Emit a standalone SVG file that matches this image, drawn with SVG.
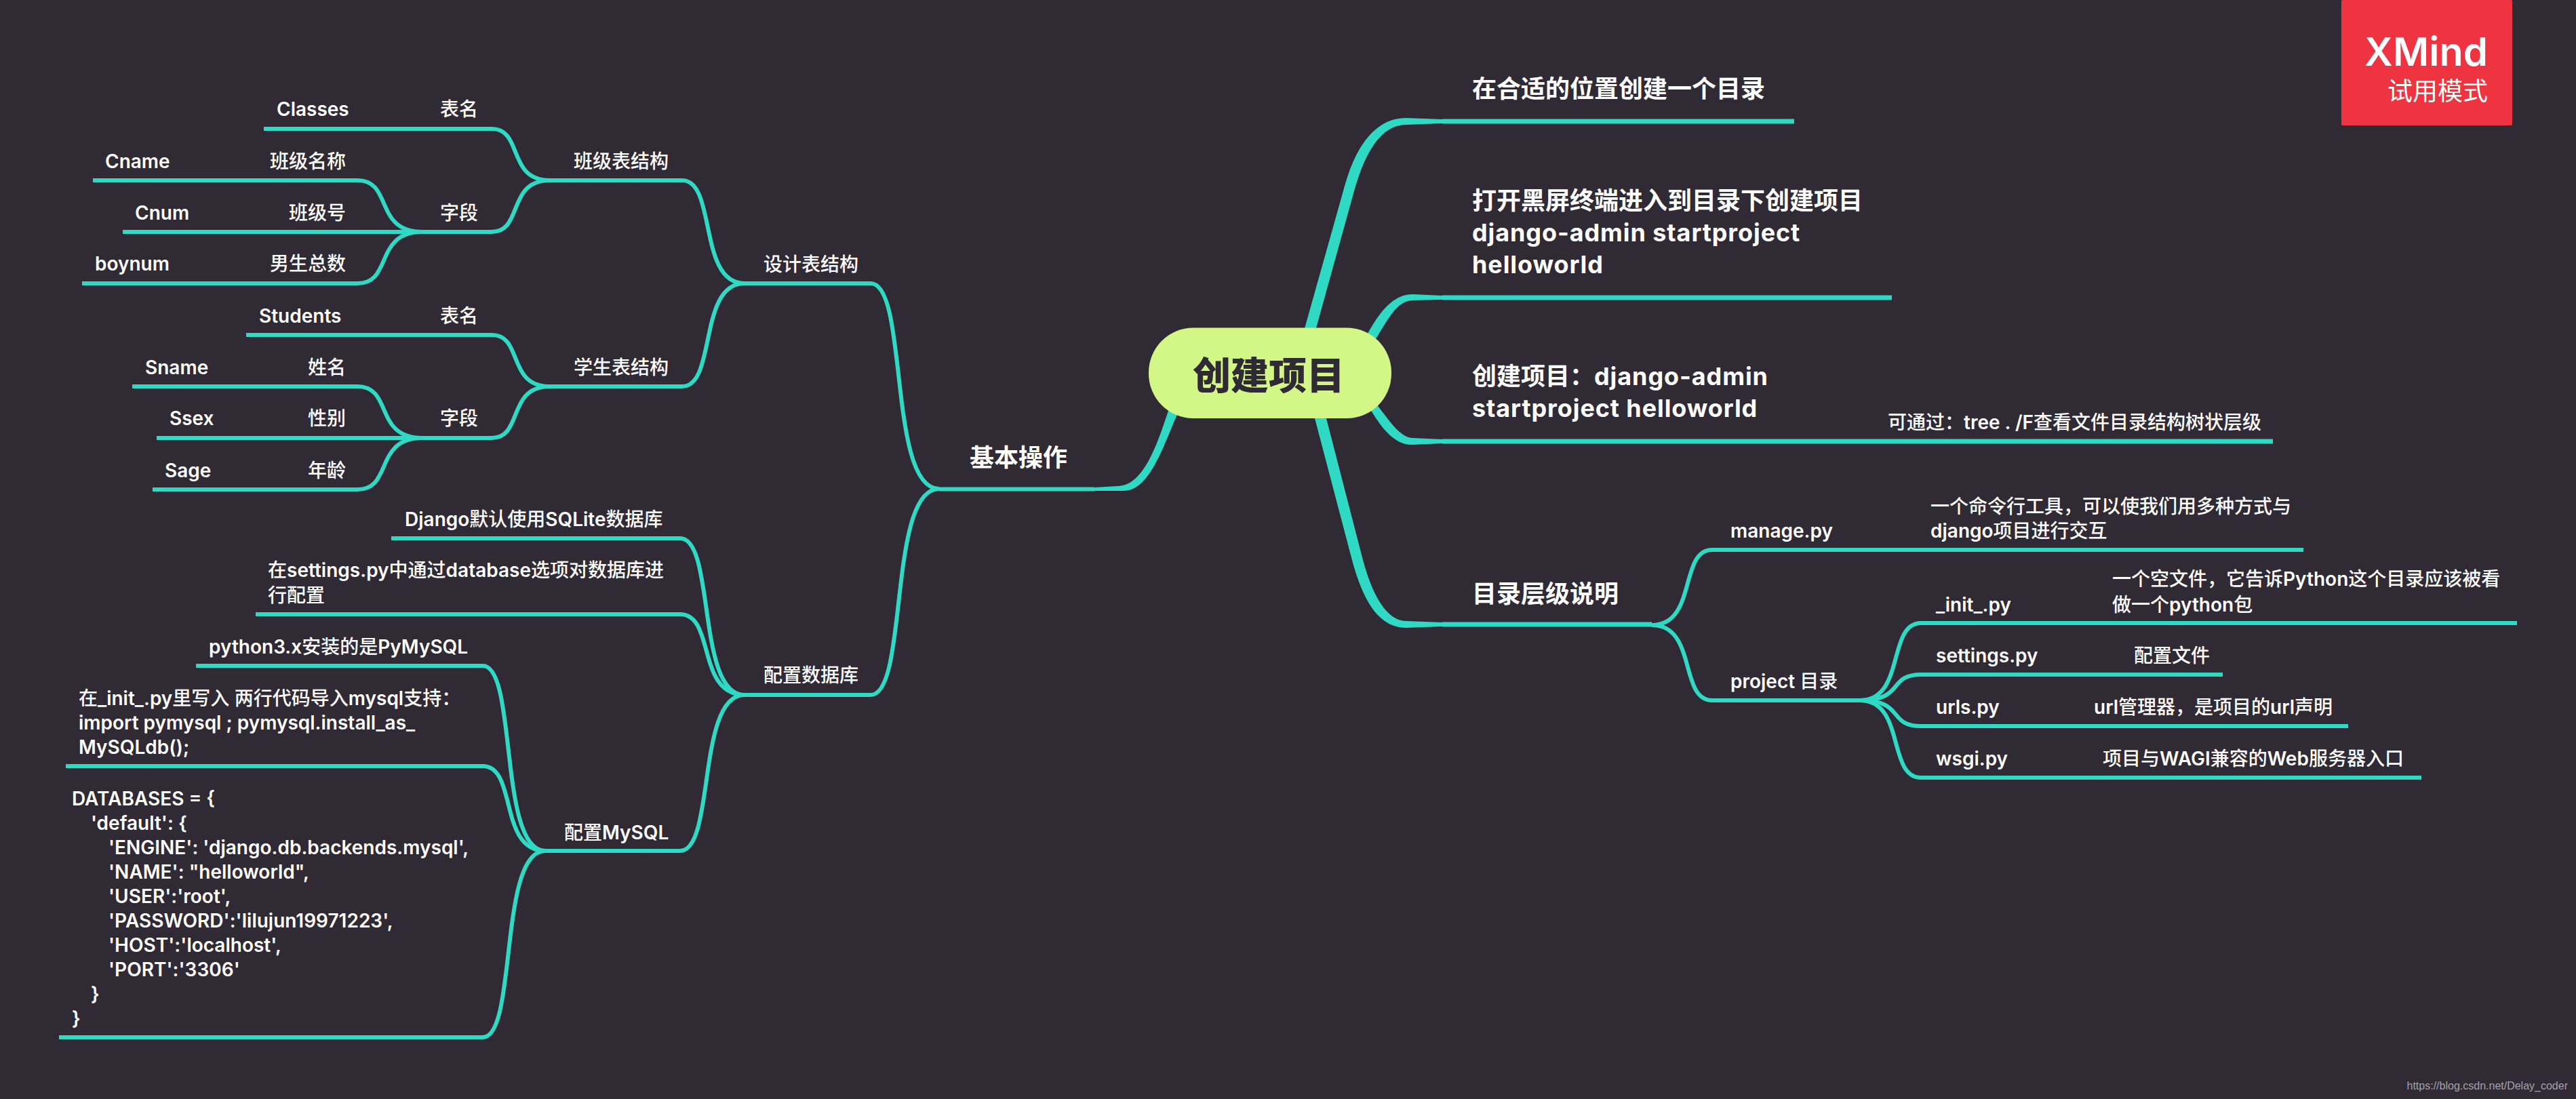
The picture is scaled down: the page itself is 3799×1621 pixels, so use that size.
<svg xmlns="http://www.w3.org/2000/svg" width="3799" height="1621" viewBox="0 0 3799 1621">
<style>
text{font-family:"Inter","Noto Sans CJK SC","Noto Sans",sans-serif;fill:#fff}
.l1{font-size:36px;font-weight:700}
.l2{font-size:28px;font-weight:500}
.b{font-weight:600}
.s{letter-spacing:.9px}
.c{fill:none;stroke:#2fd9c3;stroke-width:6;stroke-linejoin:round}
.m{fill:none;stroke:#2fd9c3;stroke-width:7}
.t{fill:#2fd9c3;stroke:none}
</style>
<rect width="3799" height="1621" fill="#302a35"/>
<g id="connectors">
<path class="t" d="M1914,520L1982,278C2000,212 2030,174 2074,174L2127,176V182L2074,184C2040,184 2015,218 1997,282L1931,520Z"/>
<path class="m" d="M2127,179H2646"/>
<path class="t" d="M1990,540L2018,490C2035,460 2055,434 2083,434L2127,436V442L2083,443C2060,444 2048,470 2030,498L2005,540Z"/>
<path class="m" d="M2127,439H2790"/>
<path class="t" d="M1990,560L2023,607C2040,635 2058,656 2083,656L2127,654V648L2083,646C2065,645 2050,622 2033,600L2000,560Z"/>
<path class="m" d="M2127,651H3352"/>
<path class="t" d="M1930,580L1939,617L1995,830C2012,890 2035,926 2074,926L2127,924V918L2074,916C2048,916 2026,885 2010,826L1956,617L1948,580Z"/>
<path class="m" d="M2127,921H2436"/>
<path class="t" d="M1742,560L1722,609C1705,660 1685,717 1648,717L1614,719V724L1657,724C1695,724 1715,660 1735,614L1755,560Z"/>
<path class="c" d="M1385,721.500H1614"/>
<path class="c" d="M1098,418H1284C1340,418 1309,721 1385,721"/>
<path class="c" d="M1098,1025H1284C1340,1025 1309,721 1385,721"/>
<path class="c" d="M811,266H1006C1057,266 1029,418 1098,418"/>
<path class="c" d="M811,570H1006C1057,570 1029,418 1098,418"/>
<path class="c" d="M389,190H725C772,190 747,266 811,266"/>
<path class="c" d="M623,342H725C772,342 747,266 811,266"/>
<path class="c" d="M137,266H527C580,266 551,342 623,342"/>
<path class="c" d="M181,342H623"/>
<path class="c" d="M121,418H527C580,418 551,342 623,342"/>
<path class="c" d="M363,494H725C772,494 747,570 811,570"/>
<path class="c" d="M623,646H725C772,646 747,570 811,570"/>
<path class="c" d="M195,570H527C580,570 551,646 623,646"/>
<path class="c" d="M231,646H623"/>
<path class="c" d="M225,722H527C580,722 551,646 623,646"/>
<path class="c" d="M577,794H1003C1055,794 1027,1025 1098,1025"/>
<path class="c" d="M377,906H1003C1055,906 1027,1025 1098,1025"/>
<path class="c" d="M804,1255H1003C1055,1255 1027,1025 1098,1025"/>
<path class="c" d="M289,982H712C763,982 735,1255 804,1255"/>
<path class="c" d="M97,1130H712C763,1130 735,1255 804,1255"/>
<path class="c" d="M87,1530H712C763,1530 735,1255 804,1255"/>
<path class="c" d="M3397,811H2525C2476,811 2503,922 2436,922"/>
<path class="c" d="M2743,1033H2525C2476,1033 2503,922 2436,922"/>
<path class="c" d="M3712,919H2833C2783,919 2810,1033 2743,1033"/>
<path class="c" d="M3278,995H2833C2783,995 2810,1033 2743,1033"/>
<path class="c" d="M3463,1071H2833C2783,1071 2810,1033 2743,1033"/>
<path class="c" d="M3571,1147H2833C2783,1147 2810,1033 2743,1033"/>
</g>
<g id="root">
<rect x="1694" y="483.500" width="358" height="133.500" rx="66" ry="66" fill="#d2f787"/>
<text x="1871" y="574" text-anchor="middle" font-size="56" font-weight="900" style="fill:#302a35">创建项目</text>
</g>
<g id="n-dir"><text class="l1" x="2171" y="144">在合适的位置创建一个目录</text></g>
<g id="n-open"><text class="l1"><tspan x="2171" y="309">打开黑屏终端进入到目录下创建项目</tspan><tspan class="s" x="2171" y="356">django-admin startproject</tspan><tspan class="s" x="2171" y="403">helloworld</tspan></text></g>
<g id="n-create"><text class="l1"><tspan x="2171" y="568">创建项目：</tspan><tspan class="s">django-admin</tspan><tspan class="s" x="2171" y="615">startproject helloworld</tspan></text></g>
<g id="n-tree"><text class="l2" x="2784" y="633">可通过：<tspan class="b">tree . /F</tspan>查看文件目录结构树状层级</text></g>
<g id="n-levels"><text class="l1" x="2171" y="889">目录层级说明</text></g>
<g id="n-manage"><text class="l2 b" x="2552" y="793">manage.py</text></g>
<g id="n-manage-d"><text class="l2"><tspan x="2847" y="757">一个命令行工具，可以使我们用多种方式与</tspan><tspan x="2847" y="793"><tspan class="b">django</tspan>项目进行交互</tspan></text></g>
<g id="n-project"><text class="l2" x="2552" y="1015"><tspan class="b">project </tspan>目录</text></g>
<g id="n-init"><text class="l2 b" x="2855" y="902">_init_.py</text></g>
<g id="n-init-d"><text class="l2"><tspan x="3115" y="864">一个空文件，它告诉<tspan class="b">Python</tspan>这个目录应该被看</tspan><tspan x="3115" y="902">做一个<tspan class="b">python</tspan>包</tspan></text></g>
<g id="n-settings"><text class="l2 b" x="2855" y="977">settings.py</text></g>
<g id="n-settings-d"><text class="l2" x="3147" y="977">配置文件</text></g>
<g id="n-urls"><text class="l2 b" x="2855" y="1053">urls.py</text></g>
<g id="n-urls-d"><text class="l2" x="3088" y="1053"><tspan class="b">url</tspan>管理器，是项目的<tspan class="b">url</tspan>声明</text></g>
<g id="n-wsgi"><text class="l2 b" x="2855" y="1129">wsgi.py</text></g>
<g id="n-wsgi-d"><text class="l2" x="3101" y="1129">项目与<tspan class="b">WAGI</tspan>兼容的<tspan class="b">Web</tspan>服务器入口</text></g>
<g id="n-basic"><text class="l1" x="1430" y="688">基本操作</text></g>
<g id="n-design"><text class="l2" x="1126" y="400">设计表结构</text></g>
<g id="n-db"><text class="l2" x="1126" y="1006">配置数据库</text></g>
<g id="n-class"><text class="l2" x="846" y="248">班级表结构</text></g>
<g id="n-class-name"><text class="l2" x="649" y="171">表名</text></g>
<g id="n-classes"><text class="l2 b" x="408" y="171">Classes</text></g>
<g id="n-class-field"><text class="l2" x="649" y="324">字段</text></g>
<g id="n-cname-d"><text class="l2" x="398" y="248">班级名称</text></g>
<g id="n-cname"><text class="l2 b" x="155" y="248">Cname</text></g>
<g id="n-cnum-d"><text class="l2" x="426" y="324">班级号</text></g>
<g id="n-cnum"><text class="l2 b" x="199" y="324">Cnum</text></g>
<g id="n-boy-d"><text class="l2" x="398" y="399">男生总数</text></g>
<g id="n-boy"><text class="l2 b" x="140" y="399">boynum</text></g>
<g id="n-student"><text class="l2" x="846" y="552">学生表结构</text></g>
<g id="n-student-name"><text class="l2" x="649" y="476">表名</text></g>
<g id="n-students"><text class="l2 b" x="382" y="476">Students</text></g>
<g id="n-student-field"><text class="l2" x="649" y="627">字段</text></g>
<g id="n-sname-d"><text class="l2" x="454" y="552">姓名</text></g>
<g id="n-sname"><text class="l2 b" x="214" y="552">Sname</text></g>
<g id="n-ssex-d"><text class="l2" x="454" y="627">性别</text></g>
<g id="n-ssex"><text class="l2 b" x="250" y="627">Ssex</text></g>
<g id="n-sage-d"><text class="l2" x="454" y="704">年龄</text></g>
<g id="n-sage"><text class="l2 b" x="243" y="704">Sage</text></g>
<g id="n-django"><text class="l2" x="597" y="776"><tspan class="b">Django</tspan>默认使用<tspan class="b">SQLite</tspan>数据库</text></g>
<g id="n-settingsdb"><text class="l2"><tspan x="395" y="851">在<tspan class="b">settings.py</tspan>中通过<tspan class="b">database</tspan>选项对数据库进</tspan><tspan x="395" y="888">行配置</tspan></text></g>
<g id="n-mysql"><text class="l2" x="832" y="1238">配置<tspan class="b">MySQL</tspan></text></g>
<g id="n-py3"><text class="l2" x="308" y="964"><tspan class="b">python3.x</tspan>安装的是<tspan class="b">PyMySQL</tspan></text></g>
<g id="n-initpy"><text class="l2"><tspan x="116" y="1040">在<tspan class="b">_init_.py</tspan>里写入 两行代码导入<tspan class="b">mysql</tspan>支持：</tspan><tspan class="b" x="116" y="1076">import pymysql ; pymysql.install_as_</tspan><tspan class="b" x="116" y="1112">MySQLdb();</tspan></text></g>
<g id="n-databases"><text class="l2 b"><tspan x="106" y="1188">DATABASES = {</tspan><tspan x="134" y="1224">'default': {</tspan><tspan x="160" y="1260">'ENGINE': 'django.db.backends.mysql',</tspan><tspan x="160" y="1296">'NAME': "helloworld",</tspan><tspan x="160" y="1332">'USER':'root',</tspan><tspan x="160" y="1368">'PASSWORD':'lilujun19971223',</tspan><tspan x="160" y="1404">'HOST':'localhost',</tspan><tspan x="160" y="1440">'PORT':'3306'</tspan><tspan x="134" y="1476">}</tspan><tspan x="106" y="1512">}</tspan></text></g>
<rect x="3453" y="0" width="252" height="185" rx="2" fill="#ee3440"/>
<text x="3669" y="97" text-anchor="end" font-size="58" font-weight="600">XMind</text>
<text x="3669" y="148" text-anchor="end" font-size="37" font-weight="400">试用模式</text>
<text x="3787" y="1607" text-anchor="end" font-size="16" style="font-family:'Liberation Sans',sans-serif;fill:#a5a1a9">https://blog.csdn.net/Delay_coder</text>
</svg>
